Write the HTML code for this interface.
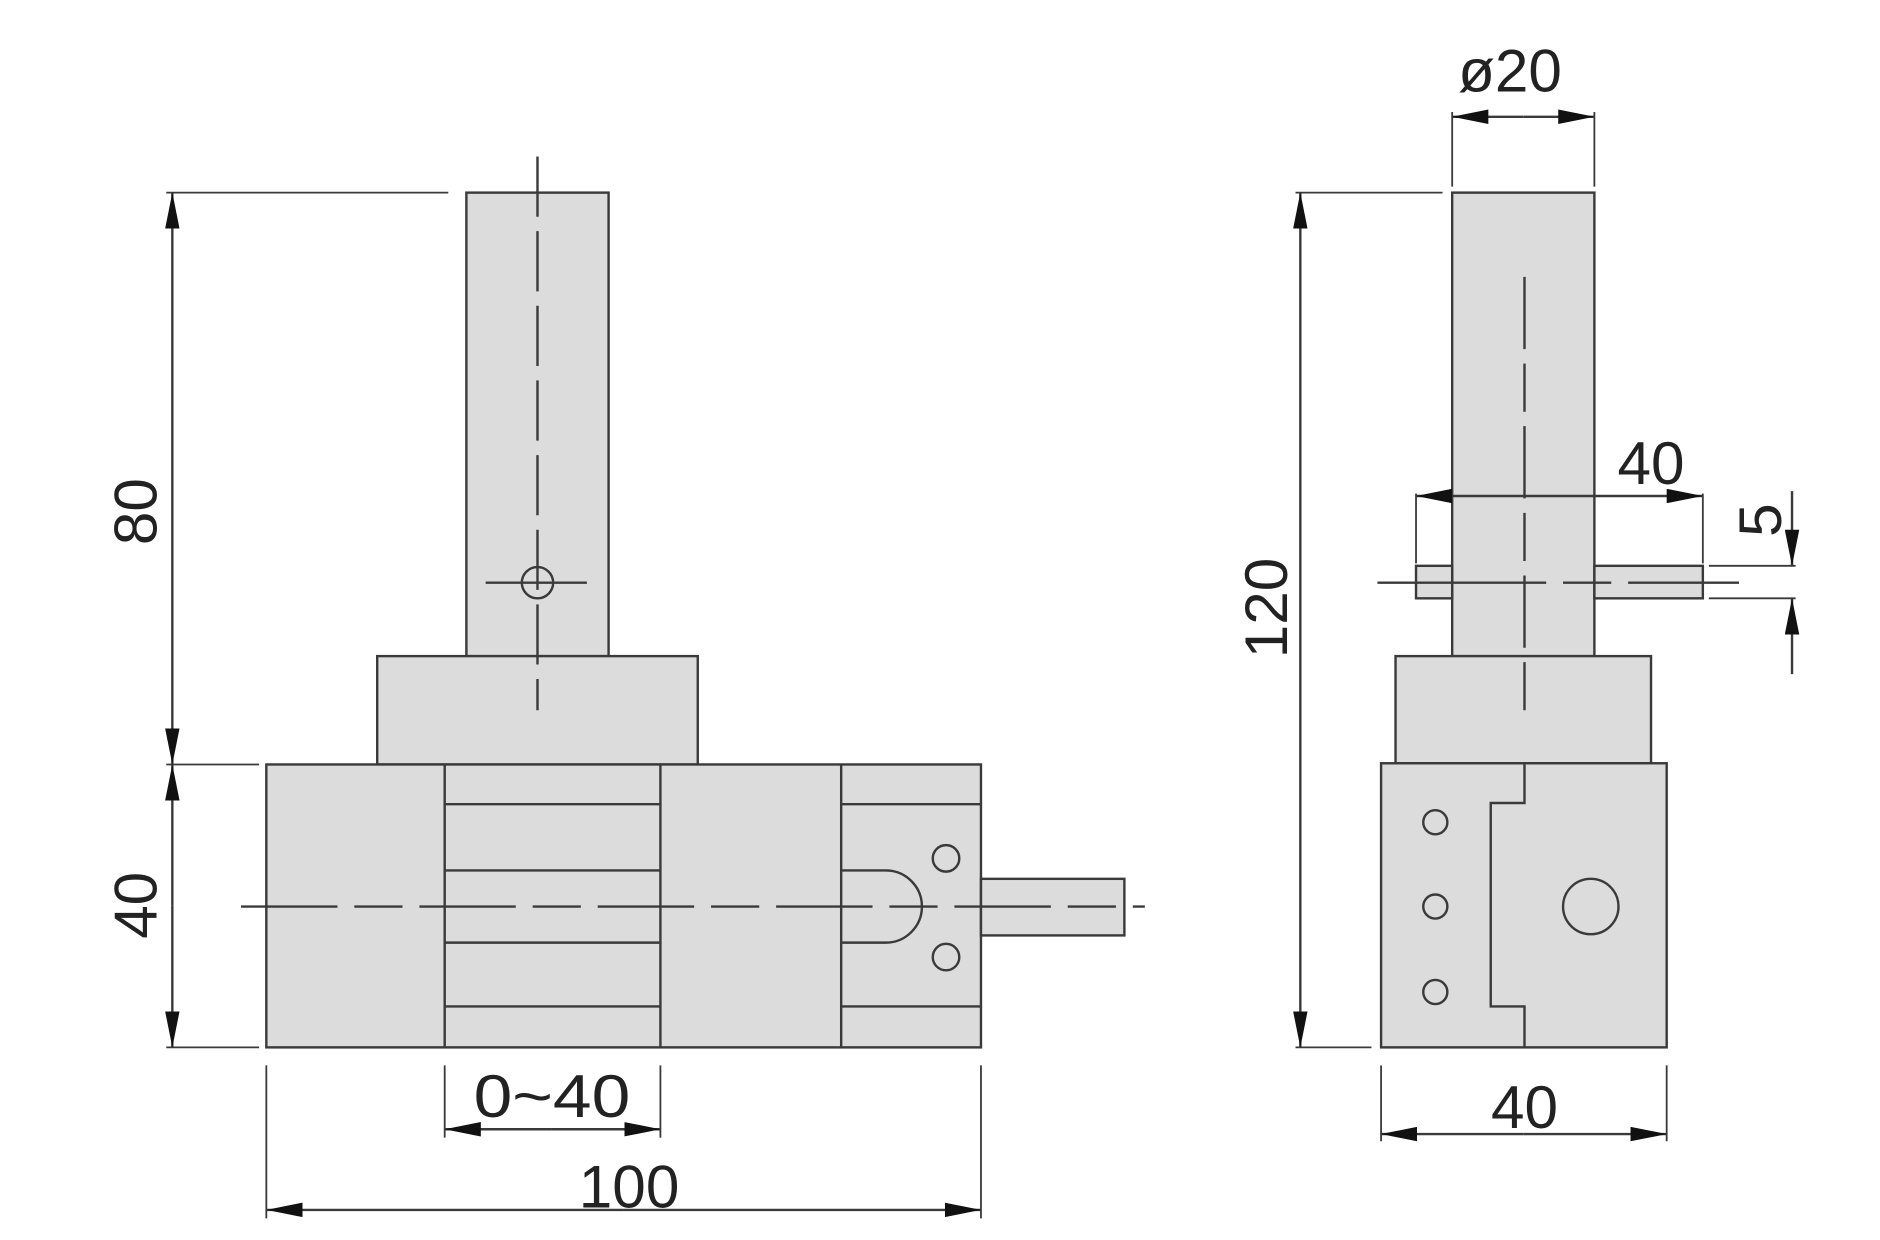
<!DOCTYPE html>
<html><head><meta charset="utf-8"><style>
html,body{margin:0;padding:0;background:#fff;}
svg{display:block;}
text{font-family:"Liberation Sans",sans-serif;fill:#222;}
</style></head><body>
<svg width="1880" height="1240" viewBox="0 0 1560 1030" preserveAspectRatio="none" xmlns="http://www.w3.org/2000/svg">
<defs>
<marker id="a" viewBox="0 0 30 12" refX="30" refY="6" markerWidth="30" markerHeight="12" markerUnits="userSpaceOnUse" orient="auto"><path d="M0,0 L30,6 L0,12 Z" fill="#111"/></marker>
</defs>
<g stroke="#3a3a3a" stroke-width="2" fill="#dcdcdc">
<!-- LEFT VIEW -->
<rect x="387" y="160" width="118" height="385"/>
<rect x="313" y="545" width="266" height="90"/>
<rect x="221" y="635" width="593" height="235"/>
<rect x="814" y="730" width="119" height="47"/>
<line x1="369" y1="635" x2="369" y2="870"/>
<line x1="548" y1="635" x2="548" y2="870"/>
<line x1="698" y1="635" x2="698" y2="870"/>
<line x1="369" y1="668" x2="548" y2="668"/>
<line x1="369" y1="723" x2="548" y2="723"/>
<line x1="369" y1="783" x2="548" y2="783"/>
<line x1="369" y1="836" x2="548" y2="836"/>
<line x1="698" y1="668" x2="814" y2="668"/>
<line x1="698" y1="836" x2="814" y2="836"/>
<path d="M698,723 L735,723 A30,30 0 0 1 735,783 L698,783" fill="none"/>
<circle cx="785" cy="713" r="11"/>
<circle cx="785" cy="795" r="11"/>
<circle cx="446" cy="484" r="13" fill="none"/>
<!-- RIGHT VIEW -->
<rect x="1205" y="160" width="118" height="385"/>
<rect x="1175" y="470" width="30" height="27"/>
<rect x="1323" y="470" width="90" height="27"/>
<rect x="1158" y="545" width="212" height="89"/>
<rect x="1146" y="634" width="237" height="236"/>
<path d="M1265,634 L1265,667 L1237,667 L1237,836 L1265,836 L1265,870" fill="none"/>
<circle cx="1191" cy="683" r="10"/>
<circle cx="1191" cy="753" r="10"/>
<circle cx="1191" cy="824" r="10"/>
<circle cx="1320" cy="753" r="23"/>
</g>
<g stroke="#3a3a3a" stroke-width="2" fill="none">
<!-- centerlines -->
<line x1="446" y1="130" x2="446" y2="590" stroke-dasharray="50,12"/>
<line x1="403" y1="484" x2="487" y2="484"/>
<line x1="200" y1="753" x2="950" y2="753" stroke-dasharray="80,14,40,14"/>
<line x1="1265" y1="230" x2="1265" y2="590" stroke-dasharray="60,12,40,12"/>
<line x1="1143" y1="484" x2="1443" y2="484" stroke-dasharray="140,14,40,14"/>
<!-- dims left -->
<line x1="138" y1="160" x2="372" y2="160" stroke-width="1.5"/>
<line x1="138" y1="635" x2="215" y2="635" stroke-width="1.5"/>
<line x1="138" y1="870" x2="215" y2="870" stroke-width="1.5"/>
<line x1="143" y1="400" x2="143" y2="160" marker-end="url(#a)"/>
<line x1="143" y1="400" x2="143" y2="635" marker-end="url(#a)"/>
<line x1="143" y1="752" x2="143" y2="635" marker-end="url(#a)"/>
<line x1="143" y1="752" x2="143" y2="870" marker-end="url(#a)"/>
<line x1="369" y1="885" x2="369" y2="945" stroke-width="1.5"/>
<line x1="548" y1="885" x2="548" y2="945" stroke-width="1.5"/>
<line x1="458" y1="938" x2="369" y2="938" marker-end="url(#a)"/>
<line x1="458" y1="938" x2="548" y2="938" marker-end="url(#a)"/>
<line x1="221" y1="885" x2="221" y2="1012" stroke-width="1.5"/>
<line x1="814" y1="885" x2="814" y2="1012" stroke-width="1.5"/>
<line x1="517" y1="1005" x2="221" y2="1005" marker-end="url(#a)"/>
<line x1="517" y1="1005" x2="814" y2="1005" marker-end="url(#a)"/>
<!-- dims right -->
<line x1="1205" y1="93" x2="1205" y2="155" stroke-width="1.5"/>
<line x1="1323" y1="93" x2="1323" y2="155" stroke-width="1.5"/>
<line x1="1264" y1="97" x2="1205" y2="97" marker-end="url(#a)"/>
<line x1="1264" y1="97" x2="1323" y2="97" marker-end="url(#a)"/>
<line x1="1075" y1="160" x2="1197" y2="160" stroke-width="1.5"/>
<line x1="1075" y1="870" x2="1138" y2="870" stroke-width="1.5"/>
<line x1="1079" y1="515" x2="1079" y2="160" marker-end="url(#a)"/>
<line x1="1079" y1="515" x2="1079" y2="870" marker-end="url(#a)"/>
<line x1="1175" y1="410" x2="1175" y2="468" stroke-width="1.5"/>
<line x1="1413" y1="410" x2="1413" y2="468" stroke-width="1.5"/>
<line x1="1294" y1="412" x2="1175" y2="412" marker-end="url(#a)"/>
<line x1="1294" y1="412" x2="1413" y2="412" marker-end="url(#a)"/>
<line x1="1418" y1="470" x2="1490" y2="470" stroke-width="1.5"/>
<line x1="1418" y1="497" x2="1490" y2="497" stroke-width="1.5"/>
<line x1="1487" y1="408" x2="1487" y2="470" marker-end="url(#a)"/>
<line x1="1487" y1="560" x2="1487" y2="497" marker-end="url(#a)"/>
</g>
<g font-size="50">
<text x="130" y="425" text-anchor="middle" transform="rotate(-90 130 425)">80</text>
<text x="130" y="752" text-anchor="middle" transform="rotate(-90 130 752)">40</text>
<text x="458" y="928" text-anchor="middle" textLength="130" lengthAdjust="spacingAndGlyphs">0~40</text>
<text x="522" y="1003" text-anchor="middle">100</text>
<text x="1253" y="76" text-anchor="middle">ø20</text>
<text x="1068" y="505" text-anchor="middle" transform="rotate(-90 1068 505)">120</text>
<text x="1370" y="402" text-anchor="middle">40</text>
<text x="1478" y="432" text-anchor="middle" transform="rotate(-90 1478 432)">5</text>
<text x="1265" y="937" text-anchor="middle">40</text>
</g>
<g stroke="#3a3a3a" stroke-width="1.5">
<line x1="1146" y1="885" x2="1146" y2="948"/>
<line x1="1383" y1="885" x2="1383" y2="948"/>
</g>
<g stroke="#3a3a3a" stroke-width="2">
<line x1="1264" y1="942" x2="1146" y2="942" marker-end="url(#a)"/>
<line x1="1264" y1="942" x2="1383" y2="942" marker-end="url(#a)"/>
</g>
</svg>
</body></html>
